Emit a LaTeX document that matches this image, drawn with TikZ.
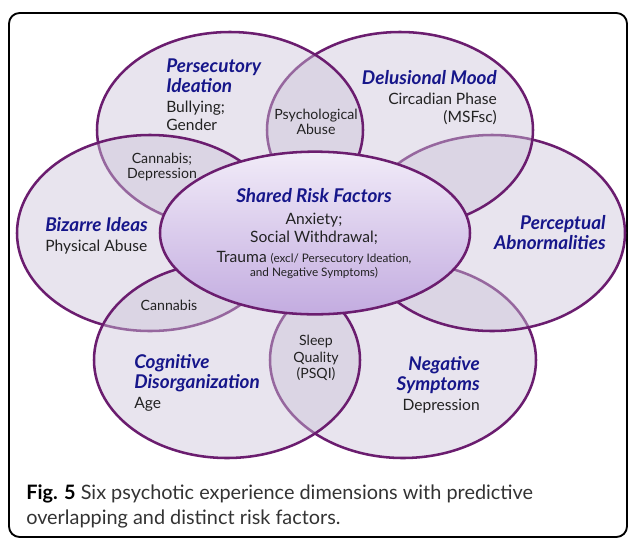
\documentclass[tikz,border=0pt]{standalone}
\usepackage{fontspec}
\setmainfont{Lato}
\usepackage{tikz}
\usetikzlibrary{shapes.geometric}
\definecolor{vdLine}{HTML}{6B1D6F}
\definecolor{vdFill}{HTML}{CCC3D9}
\definecolor{vdTitle}{HTML}{16168A}
\definecolor{vdText}{HTML}{222222}
\definecolor{vdCoreTop}{HTML}{F1EBF8}
\definecolor{vdCoreBot}{HTML}{C3ACE0}
\definecolor{vdCap}{HTML}{333333}
\newcommand{\dimname}[1]{{\color{vdTitle}\fontsize{14.2}{15}\selectfont\bfseries\itshape #1}}
\newcommand{\smallnote}[1]{{\fontsize{8.8}{10}\selectfont #1}}
\tikzset{
  petal/.style={
    ellipse, draw=vdLine, line width=1.9pt, fill=vdFill, fill opacity=0.45,
    draw opacity=1, minimum width=199.5pt, minimum height=147pt, inner sep=0pt
  },
  core/.style={
    ellipse, draw=vdLine, line width=1.9pt, top color=vdCoreTop,
    bottom color=vdCoreBot, minimum width=232.5pt, minimum height=122pt, inner sep=0pt
  },
  dimlabel/.style={text=vdText, inner sep=0pt, font=\fontsize{11.7}{13.3}\selectfont},
  lenslabel/.style={text=vdText, inner sep=0pt, align=center, font=\fontsize{10.6}{11.5}\selectfont},
  figcap/.style={text=vdCap, inner sep=0pt, align=left, anchor=north west, font=\fontsize{14.9}{18.75}\selectfont}
}
\begin{document}
\begin{tikzpicture}[x=0.75pt, y=-0.75pt]
  \useasboundingbox (0,0) rectangle (629,540);
  \draw[black, line width=1.4pt, rounded corners=8pt] (9,13) rectangle (627,537);
  % petals, back to front
  \node[petal] (neg) at (403,360) {};
  \node[petal] (perc) at (492,233) {};
  \node[petal] (delu) at (400,130) {};
  \node[petal] (pers) at (230,130) {};
  \node[petal] (biz) at (150,233) {};
  \node[petal] (cog) at (227,360) {};
  \node[core] (shared) at (315,233) {};
  % petal labels
  \node[dimlabel, align=left, anchor=north west] (persTxt) at (166,59)
    {\dimname{Persecutory}\\[1.7pt]\dimname{Ideation}\\[1.7pt]Bullying;\\Gender};
  \node[dimlabel, align=right, anchor=north east] (deluTxt) at (497,70)
    {\dimname{Delusional Mood}\\[1.7pt]Circadian Phase\\(MSFsc)};
  \node[dimlabel, align=left, anchor=north west] (bizTxt) at (45,217)
    {\dimname{Bizarre Ideas}\\[1.7pt]Physical Abuse};
  \node[dimlabel, align=right, anchor=north east] (percTxt) at (606,215)
    {\dimname{Perceptual}\\[1.7pt]\dimname{Abnormalities}};
  \node[dimlabel, align=left, anchor=north west] (cogTxt) at (134,354)
    {\dimname{Cognitive}\\[1.7pt]\dimname{Disorganization}\\[1.7pt]Age};
  \node[dimlabel, align=right, anchor=north east] (negTxt) at (480,356)
    {\dimname{Negative}\\[1.7pt]\dimname{Symptoms}\\[1.7pt]Depression};
  % overlap labels
  \node[lenslabel] (psyAbuse) at (316,122) {Psychological\\Abuse};
  \node[lenslabel] (canDep) at (162,167) {Cannabis;\\Depression};
  \node[lenslabel] (canOnly) at (169,305) {Cannabis};
  \node[lenslabel] (sleepQ) at (316,358) {Sleep\\[1pt]Quality\\[1pt](PSQI)};
  % shared factors
  \node[dimlabel, align=center, anchor=north] (sharedTxt) at (314,188)
    {\dimname{Shared Risk Factors}\\[3.2pt]Anxiety;\\Social Withdrawal;\\[1.7pt]
     Trauma \smallnote{(excl/ Persecutory Ideation,}\\[-2.8pt]
     \smallnote{and Negative Symptoms)}};
  % caption
  \node[figcap] (cap) at (26,484)
    {{\bfseries\color{black}Fig. 5} Six psychotic experience dimensions with predictive\\
     overlapping and distinct risk factors.};
\end{tikzpicture}
\end{document}
